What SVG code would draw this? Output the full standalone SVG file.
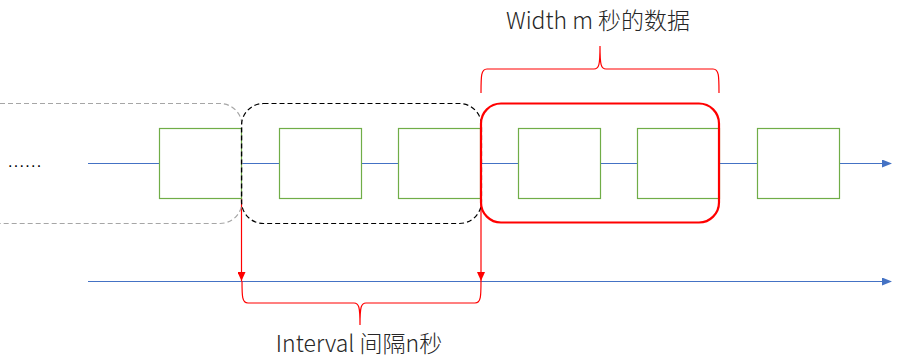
<svg xmlns="http://www.w3.org/2000/svg" width="898" height="364" viewBox="0 0 898 364">
<style>
.box{fill:#fff;stroke:#70AD47;stroke-width:1.2}
.line{stroke:#4472C4;stroke-width:1;fill:none}
.red{stroke:#FF0000;stroke-width:1.2;fill:none}
.lbl{font-family:"Noto Sans CJK SC","Noto Sans",sans-serif;font-size:23px;font-weight:300;fill:#262626}
</style>
<defs>
<marker id="blueArrow" markerWidth="10" markerHeight="8" refX="9" refY="4" orient="auto" markerUnits="userSpaceOnUse">
<path d="M0,0 L10,4 L0,8 Z" fill="#4472C4"/>
</marker>
<marker id="redArrow" markerWidth="8" markerHeight="9" refX="4" refY="9" orient="0" markerUnits="userSpaceOnUse">
<path d="M0,0 L8,0 L4,9 Z" fill="#FF0000"/>
</marker>
</defs>
<rect width="898" height="364" fill="#fff"/>
<g id="connectors">
<line class="line" x1="88" y1="163.5" x2="891" y2="163.5" marker-end="url(#blueArrow)"/>
<line class="line" x1="88" y1="281.5" x2="891" y2="281.5" marker-end="url(#blueArrow)"/>
<line class="red" x1="241.5" y1="198" x2="241.5" y2="281" marker-end="url(#redArrow)"/>
<line class="red" x1="481" y1="198" x2="481" y2="281" marker-end="url(#redArrow)"/>
</g>
<g id="box1"><rect class="box" x="159.5" y="128.5" width="82" height="70"/></g>
<g id="box2"><rect class="box" x="279.5" y="128.5" width="82" height="70"/></g>
<g id="box3"><rect class="box" x="398.5" y="128.5" width="82" height="70"/></g>
<g id="box4"><rect class="box" x="518.5" y="128.5" width="82" height="70"/></g>
<g id="box5"><rect class="box" x="637.5" y="128.5" width="82" height="70"/></g>
<g id="box6"><rect class="box" x="757.5" y="128.5" width="82" height="70"/></g>
<g id="window-gray"><rect x="-22" y="103.5" width="264" height="120" rx="22" fill="none" stroke="#A6A6A6" stroke-width="1.2" stroke-dasharray="5,3"/></g>
<g id="window-black"><rect x="241.5" y="103.5" width="240" height="120" rx="22" fill="none" stroke="#000" stroke-width="1.2" stroke-dasharray="5,3"/></g>
<g id="window-red"><rect x="481" y="103.5" width="238" height="119" rx="20" fill="none" stroke="#FF0000" stroke-width="2.2"/></g>
<g id="brace-width">
<path class="red" d="M481,93 C481,76 481,69 487,69 L594,69 C599,69 600,65 600,46 C600,65 601,69 606,69 L713,69 C719,69 719,76 719,93"/>
<text class="lbl" x="598" y="29" text-anchor="middle">Width m 秒的数据</text>
</g>
<g id="brace-interval">
<path class="red" d="M242,281 C242,296 242,303 248,303 L354,303 C359,303 360,307 360,325 C360,307 361,303 366,303 L475,303 C481,303 481,296 481,281"/>
<text class="lbl" x="359" y="352" text-anchor="middle">Interval 间隔n秒</text>
</g>
<g id="ellipsis"><text x="8" y="167" font-family="Liberation Sans,sans-serif" font-size="16" fill="#000" letter-spacing="1.3">......</text></g>
</svg>
